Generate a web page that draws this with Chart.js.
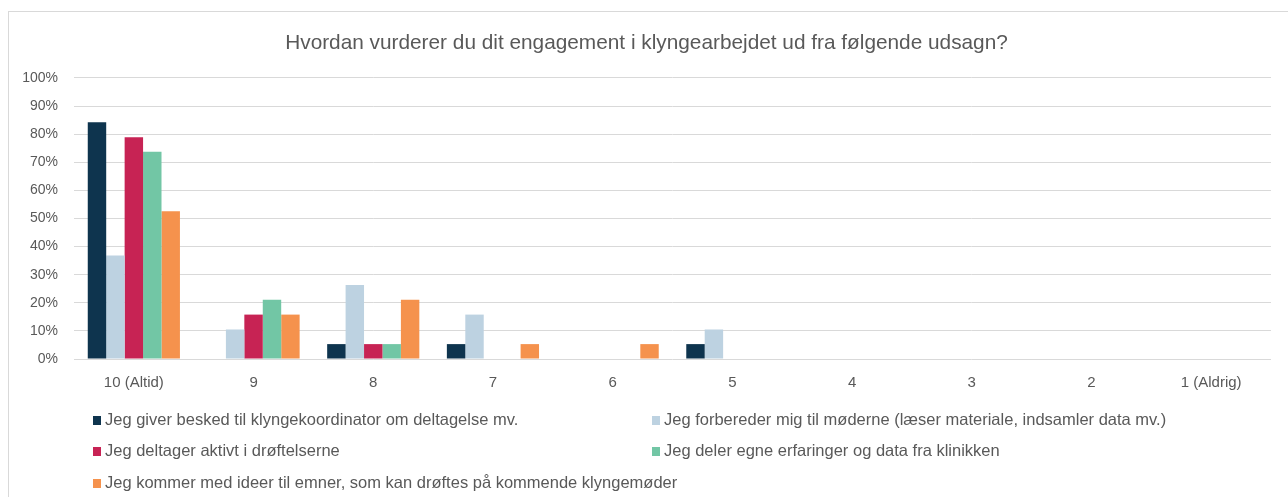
<!DOCTYPE html>
<html>
<head>
<meta charset="utf-8">
<script src="https://cdn.jsdelivr.net/npm/chart.js@4.4.0/dist/chart.umd.min.js"></script>
<style>
  body { margin: 0; background: #fff; font-family: "Liberation Sans", Arial, sans-serif; overflow: hidden; }
  #wrap { position: relative; width: 1288px; height: 497px; overflow: hidden; }
  #frame { position: absolute; left: 8px; top: 11px; width: 1300px; height: 520px; border: 1px solid #d9d9d9; box-sizing: border-box; }
  canvas { position: absolute; left: 0; top: 0; }
  #legend { position: absolute; left: 93px; top: 409px; width: 1150px; }
  .item { position: absolute; font-size: 16.5px; color: #595959; white-space: nowrap; line-height: 20px; }
  .item span.box { display: inline-block; width: 8px; height: 9px; margin-right: 4px; vertical-align: 0px; }
</style>
</head>
<body>
<div id="wrap">
  <div id="frame"></div>
  <canvas id="mycanvas" width="1288" height="497"></canvas>
  <div id="legend"></div>
</div>
<script>
var categories = ["10 (Altid)", "9", "8", "7", "6", "5", "4", "3", "2", "1 (Aldrig)"];
var yTicks = [0, 10, 20, 30, 40, 50, 60, 70, 80, 90, 100];

var seriesNames = [
  "Jeg giver besked til klyngekoordinator om deltagelse mv.",
  "Jeg forbereder mig til møderne (læser materiale, indsamler data mv.)",
  "Jeg deltager aktivt i drøftelserne",
  "Jeg deler egne erfaringer og data fra klinikken",
  "Jeg kommer med ideer til emner, som kan drøftes på kommende klyngemøder"
];
var seriesColors = ["#0e344e", "#bdd2e1", "#c72354", "#72c6a5", "#f5924d"];

var besked     = [84.2, 0, 5.3, 5.3, 0, 5.3, 0, 0, 0, 0];
var forbereder = [36.8, 10.5, 26.3, 15.8, 0, 10.5, 0, 0, 0, 0];
var deltager   = [78.9, 15.8, 5.3, 0, 0, 0, 0, 0, 0, 0];
var deler      = [73.7, 21.1, 5.3, 0, 0, 0, 0, 0, 0, 0];
var ideer      = [52.6, 15.8, 21.1, 5.3, 5.3, 0, 0, 0, 0, 0];
var allSeries = [besked, forbereder, deltager, deler, ideer];

var datasets = [];
for (var i in allSeries) {
  datasets.push({
    label: seriesNames[i],
    data: allSeries[i],
    backgroundColor: seriesColors[i],
    borderWidth: 0,
    barPercentage: 1.0,
    categoryPercentage: 0.77
  });
}

var ctx = document.getElementById("mycanvas");
var barGraph = new Chart(ctx, {
  type: 'bar',
  data: { labels: categories, datasets: datasets },
  options: {
    responsive: false,
    animation: false,
    layout: { padding: { left: 22, right: 17, top: 0, bottom: 98 } },
    plugins: {
      legend: { display: false },
      tooltip: { enabled: false },
      title: {
        display: true,
        text: 'Hvordan vurderer du dit engagement i klyngearbejdet ud fra følgende udsagn?',
        color: '#595959',
        font: { family: 'Liberation Sans', size: 20.8, weight: 'normal' },
        padding: { top: 31, bottom: 22 }
      }
    },
    scales: {
      x: {
        grid: { display: false },
        border: { display: false },
        afterFit: function(axis) { axis.height = 40; },
        ticks: { color: '#595959', font: { family: 'Liberation Sans', size: 15 }, padding: 7, maxRotation: 0 }
      },
      y: {
        min: 0, max: 100,
        afterBuildTicks: function(axis) {
          axis.ticks = yTicks.map(function(v) { return { value: v }; });
        },
        afterFit: function(axis) { axis.width = 52; },
        grid: { color: '#d9d9d9', lineWidth: 1, drawTicks: false },
        border: { display: false },
        ticks: {
          color: '#595959',
          font: { family: 'Liberation Sans', size: 14 },
          padding: 16,
          callback: function(v) { return v + '%'; }
        }
      }
    }
  }
});

var legend = document.getElementById("legend");
var pos = [[0, 0], [559, 0], [0, 31], [559, 31], [0, 63]];
for (var j in seriesNames) {
  var d = document.createElement("div");
  d.className = "item";
  d.style.left = pos[j][0] + "px";
  d.style.top = pos[j][1] + "px";
  d.innerHTML = '<span class="box" style="background:' + seriesColors[j] + '"></span>' + seriesNames[j];
  legend.appendChild(d);
}
</script>
</body>
</html>
